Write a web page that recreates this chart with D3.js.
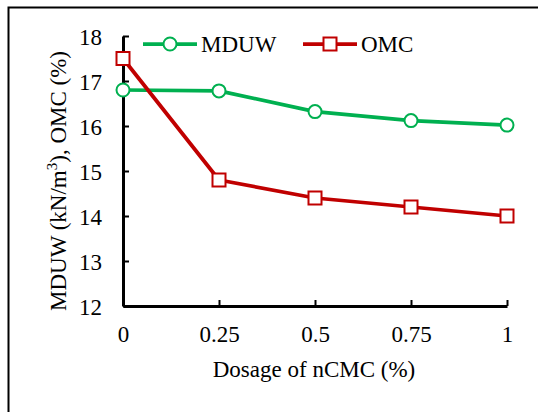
<!DOCTYPE html>
<html>
<head>
<meta charset="utf-8">
<script src="https://cdn.jsdelivr.net/npm/d3@7"></script>
<style>
  html, body { margin: 0; padding: 0; background: #fff; }
  svg { display: block; }
  text { font-family: "Liberation Serif", "Times New Roman", serif; fill: #000; }
</style>
</head>
<body>
<svg id="chart" width="538" height="412"></svg>
<script>
// nCMC dosage (%) and measured compaction parameters
const dosage = [0, 0.25, 0.5, 0.75, 1];
const mduw = [16.8, 16.78, 16.32, 16.12, 16.02];
const omc = [17.5, 14.8, 14.4, 14.2, 14.0];
const xTicks = [0, 0.25, 0.5, 0.75, 1];
const xTickLabels = ["0", "0.25", "0.5", "0.75", "1"];
const yTicks = [12, 13, 14, 15, 16, 17, 18];
const yTickLabels = ["12", "13", "14", "15", "16", "17", "18"];

const FONT = "'Liberation Serif', 'Times New Roman', serif";
const FS = 23;

const svg = d3.select("#chart");
const plot = { left: 123, right: 507, top: 36, bottom: 306 };

const x = d3.scaleLinear().domain([0, 1]).range([plot.left, plot.right]);
const y = d3.scaleLinear().domain([12, 18]).range([plot.bottom, plot.top]);

// outer frame
svg.append("rect")
  .attr("x", 8.5).attr("y", 7.5)
  .attr("width", 540).attr("height", 420)
  .attr("fill", "none").attr("stroke", "#000").attr("stroke-width", 2);

// axes with inward ticks
const yAxis = d3.axisLeft(y).tickValues(yTicks).tickSizeInner(-6).tickSizeOuter(0)
  .tickFormat((d, i) => yTickLabels[i]).tickPadding(21);
const xAxis = d3.axisBottom(x).tickValues(xTicks).tickSizeInner(-6).tickSizeOuter(0)
  .tickFormat((d, i) => xTickLabels[i]).tickPadding(20);

const gy = svg.append("g").attr("transform", `translate(${plot.left},0)`).call(yAxis);
const gx = svg.append("g").attr("transform", `translate(0,${plot.bottom})`).call(xAxis);

[gx, gy].forEach(g => {
  g.attr("font-family", FONT).attr("font-size", FS);
  g.select(".domain").attr("stroke", "#000").attr("stroke-width", 3);
  g.selectAll(".tick line").attr("stroke", "#000").attr("stroke-width", 2);
  g.selectAll(".tick text")
    .style("font-family", FONT)
    .style("font-size", FS + "px").attr("fill", "#000");
});
gy.selectAll(".tick text").attr("dy", "0.38em");

// axis titles
svg.append("text")
  .attr("x", 314).attr("y", 377)
  .attr("text-anchor", "middle").style("font-size", FS + "px")
  .text("Dosage of nCMC (%)");

const yt = svg.append("text")
  .attr("transform", "translate(66,181) rotate(-90)")
  .attr("text-anchor", "middle").style("font-size", FS + "px");
yt.append("tspan").text("MDUW (kN/m");
yt.append("tspan").attr("dy", -9).style("font-size", "15px").text("3");
yt.append("tspan").attr("dy", 9).text("), OMC (%)");

const series = [
  { name: "MDUW", values: mduw, color: "#00B050", shape: "circle" },
  { name: "OMC", values: omc, color: "#C00000", shape: "square" }
];

const line = d3.line().x((d, i) => x(dosage[i])).y(d => y(d));

function marker(g, shape, color, cx, cy) {
  if (shape === "circle") {
    g.append("circle").attr("cx", cx).attr("cy", cy).attr("r", 6.5)
      .attr("fill", "#fff").attr("stroke", color).attr("stroke-width", 2);
  } else {
    g.append("rect").attr("x", cx - 6.5).attr("y", cy - 6.5)
      .attr("width", 13).attr("height", 13)
      .attr("fill", "#fff").attr("stroke", color).attr("stroke-width", 2);
  }
}

series.forEach(s => {
  const g = svg.append("g");
  g.append("path").datum(s.values).attr("d", line)
    .attr("fill", "none").attr("stroke", s.color).attr("stroke-width", 3.75)
    .attr("stroke-linejoin", "round");
  s.values.forEach((v, i) => marker(g, s.shape, s.color, x(dosage[i]), y(v)));
});

// legend
const legendItems = [
  { s: series[0], x0: 143, tx: 201 },
  { s: series[1], x0: 303, tx: 361 }
];
legendItems.forEach(({ s, x0, tx }) => {
  const g = svg.append("g");
  const ly = 44;
  g.append("line").attr("x1", x0).attr("x2", x0 + 54).attr("y1", ly).attr("y2", ly)
    .attr("stroke", s.color).attr("stroke-width", 3.75);
  marker(g, s.shape, s.color, x0 + 27, ly);
  g.append("text").attr("x", tx).attr("y", 52).style("font-size", FS + "px").text(s.name);
});
</script>
</body>
</html>
